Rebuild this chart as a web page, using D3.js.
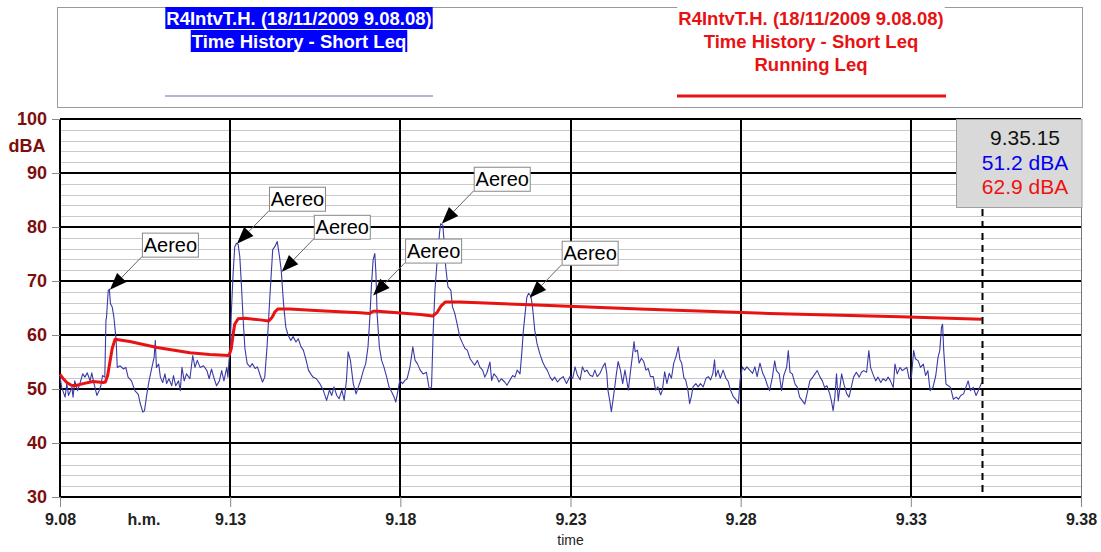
<!DOCTYPE html>
<html lang="it">
<head>
    <meta charset="UTF-8">
    <script src="https://cdnjs.cloudflare.com/ajax/libs/d3/7.8.5/d3.min.js"></script>
    <title>R4IntvT.H. - Time History</title>
    <style>
        body { margin: 0; background: #fff; }
        svg { display: block; font-family: "Liberation Sans", Arial, sans-serif; }
        .y-label { fill: #7d0e0e; font-size: 18px; font-weight: 700; }
        .x-label { fill: #222; font-size: 16px; font-weight: 700; }
        .legend-text { font-size: 18.5px; font-weight: 700; text-anchor: middle; }
        .note-text { font-size: 20px; fill: #000; }
        .readout { font-size: 21px; text-anchor: middle; }
    </style>
</head>
<body>
<script>
    // time axis: seconds from 9.08.00
    const xTickSeconds = [0, 300, 600, 900, 1200, 1500, 1800];
    const xTickLabels = ['9.08', '9.13', '9.18', '9.23', '9.28', '9.33', '9.38'];
    const yTicks = [30, 40, 50, 60, 70, 80, 90, 100];

    const titleLine = 'R4IntvT.H. (18/11/2009 9.08.08)';
    const blueLegend = [titleLine, 'Time History - Short Leq'];
    const redLegend = [titleLine, 'Time History - Short Leq', 'Running Leq'];
    const cursorLabel = '9.35.15';
    const noteLabel = 'Aereo';

    // Short Leq  [sec, dBA]
    const shortLeq = [
        [0,52.2],[3,50.3],[9,48.5],[12,51],[15,48.8],[21,50.3],[23,48.5],[26,51.5],[31,49.7],[35,51],[40,52.8],[44,52.2],
        [48,53],[53,51.5],[56,53],[60,51],[65,48.8],[69,49.7],[72,50.6],[75,52.5],[79,52.2],[81,62.7],[82,63.3],[85,68.2],
        [87,68.5],[89,65.8],[92,65.2],[95,63.3],[99,59],[101,54],[106,54.3],[112,53.7],[116,54],[120,52.2],[126,51.5],
        [132,49.7],[138,49],[141,47.5],[146,45.7],[149,46],[153,49],[157,51.5],[162,54],[166,55.9],[168,59],[170,54],
        [174,54.6],[177,52.2],[181,51.2],[185,52.8],[188,51],[192,51.9],[197,50.6],[200,52.5],[204,50.6],[209,51.5],
        [212,49.7],[215,54],[219,51.5],[223,52.8],[229,51.9],[234,56.2],[238,54],[242,55.3],[247,54],[253,54.3],[259,53.4],
        [263,51.9],[267,53.7],[271,52.2],[276,50.6],[281,51.5],[285,53.4],[289,51.5],[294,54],[296,52.2],[298,55.3],
        [300,57],[302,64],[305,71],[308,76.3],[311,77],[314,76.8],[317,74.5],[320,68.9],[323,62.7],[326,57.5],[330,54.7],
        [335,54.1],[339,54.7],[344,53.8],[348,54.1],[353,52.5],[357,51.3],[361,52.2],[365,57.8],[370,67.1],[375,75.8],
        [379,76.4],[383,77.3],[387,74.5],[390,72],[394,65.9],[398,61.5],[402,60],[407,59],[411,59.7],[416,58.7],[420,59.3],
        [425,57.8],[429,57.2],[434,55.3],[438,53.5],[442,52.8],[446,52.2],[452,51.9],[458,51],[464,49.8],[470,47.9],
        [475,49.8],[479,48.8],[483,50.4],[488,48.8],[492,48.2],[497,49.8],[501,47.9],[505,51.6],[508,56.9],[512,55.3],
        [517,51],[522,49.1],[526,50.4],[530,51.6],[535,53.5],[539,54.7],[543,57.8],[546,62.8],[549,69],[552,73.9],
        [555,75.1],[557,71.4],[559,64],[563,57.8],[567,55.3],[571,54.1],[576,52.2],[580,50.4],[585,49.4],[589,48.5],
        [592,47.6],[596,49.8],[599,51.6],[604,51],[608,51.6],[612,51.9],[617,54.1],[622,57.8],[626,55.3],[630,54.7],
        [635,53.5],[640,52.8],[646,53.1],[651,50],[655,50.4],[658,60.9],[661,68.3],[665,73.8],[669,78.8],[671,80.6],
        [675,80.3],[677,77.5],[680,72.6],[684,68.9],[689,68.3],[692,65.2],[696,64],[700,62.1],[705,59.6],[710,58.4],
        [714,57.5],[718,57.2],[723,55.6],[727,55],[731,54.4],[736,55.3],[740,54.1],[745,53.5],[749,52.2],[753,53.1],
        [758,55],[761,51.6],[765,52.8],[770,52.2],[774,51.3],[778,51.9],[784,51.3],[788,50.7],[793,51.6],[798,52.5],
        [802,52.2],[806,53.5],[811,52.8],[814,56.5],[817,60.9],[820,64],[823,67],[826,67.7],[830,67.3],[833,65.2],
        [837,60.9],[841,58.4],[846,56.5],[851,55],[855,54.1],[859,53.5],[864,52.2],[868,51.6],[872,52.2],[877,51.3],
        [881,51.8],[887,52.3],[893,51],[899,52.3],[904,52],[908,54.1],[912,52.6],[917,51.7],[921,54.1],[925,53.2],
        [929,53.5],[934,52.6],[939,52.3],[943,53.5],[947,52.3],[952,52.9],[957,54.1],[961,54.8],[964,52.9],[966,49.8],
        [969,48],[972,45.8],[975,48],[978,50.4],[981,52.9],[984,55.1],[988,53.5],[992,51],[996,53.5],[999,51.7],
        [1002,49.8],[1006,53.5],[1009,56],[1012,58.8],[1014,56.9],[1018,57.2],[1021,54.8],[1025,55.7],[1029,55.1],
        [1033,53.5],[1037,53.8],[1041,52.3],[1046,52.3],[1050,49.8],[1054,50.4],[1059,48.9],[1062,49.8],[1066,53.2],
        [1070,51],[1074,52.9],[1078,52],[1082,54.8],[1086,56],[1090,57.8],[1093,55.4],[1096,54.8],[1100,52],[1103,51.7],
        [1107,49.8],[1110,47.3],[1113,48.6],[1116,50.4],[1121,51],[1125,50.4],[1129,51],[1134,50.4],[1139,52],[1143,52.3],
        [1147,51.7],[1151,52.9],[1154,55.4],[1156,52.3],[1160,53.5],[1164,52],[1169,53.5],[1174,52],[1178,51.4],
        [1182,49.8],[1187,48.6],[1192,48],[1196,47.3],[1199,51.7],[1203,54.1],[1207,53.5],[1211,54.1],[1216,53.5],
        [1221,52.9],[1225,54.1],[1229,52.3],[1234,54.8],[1239,52.9],[1243,52],[1247,50.7],[1251,49.7],[1256,52.2],
        [1260,55.2],[1263,53.4],[1268,52.8],[1272,49.7],[1276,52.5],[1281,54],[1284,57.1],[1287,53.1],[1291,52.8],
        [1296,50.9],[1300,50.3],[1304,48.5],[1309,47.8],[1313,47.2],[1317,49.1],[1322,51.5],[1327,52.2],[1331,52.8],
        [1335,53.4],[1340,52.2],[1344,51.5],[1348,50.3],[1352,50.6],[1357,49.1],[1360,47.8],[1363,46],[1366,48.5],
        [1369,52.8],[1372,47.8],[1375,50.3],[1378,52.8],[1382,50.9],[1387,49.1],[1391,48.5],[1395,50.3],[1399,52.2],
        [1404,53.1],[1409,52.2],[1413,53.1],[1417,53.4],[1422,53.1],[1426,57.1],[1429,54],[1433,52.8],[1438,51.5],
        [1442,52.2],[1447,51.2],[1451,51.9],[1456,51.5],[1460,52.2],[1464,51.5],[1469,50.3],[1472,54.6],[1476,52.8],
        [1481,54],[1485,53.4],[1489,53.7],[1493,54],[1497,51.9],[1501,52.2],[1505,57.1],[1508,55.6],[1513,55.2],
        [1517,54],[1522,54.6],[1526,52.5],[1530,53.4],[1534,49.7],[1539,50.3],[1544,52.5],[1548,55.9],[1551,57.1],
        [1554,61.4],[1556,62],[1558,57.1],[1562,50.9],[1566,50.6],[1570,50.3],[1575,48.1],[1580,48.5],[1584,48.1],
        [1588,48.8],[1593,49.1],[1597,50.3],[1601,51.5],[1605,49.7],[1610,50.3],[1615,48.8],[1619,49.7],[1625,51.2]
    ];

    // Running Leq  [sec, dBA]
    const runningLeq = [
        [0,52.7],[5,52],[12,51.2],[20,50.7],[26,50.6],[41,51],[58,51.4],[76,51.2],[80,51.3],[84,52.5],[88,55],[92,57.5],
        [97,59.2],[123,58.8],[171,57.7],[229,56.7],[264,56.4],[298,56.2],[302,57.5],[305,60],[308,62],[314,63],[326,63.1],
        [353,62.8],[368,62.6],[374,63.3],[379,64.3],[384,64.8],[405,64.8],[458,64.5],[529,64.1],[546,64],[552,64.4],
        [560,64.4],[635,63.8],[657,63.5],[665,64.2],[672,65.4],[679,66.1],[705,66.1],[828,65.6],[1022,64.8],[1251,64],
        [1481,63.4],[1625,62.9]
    ];

    // "Aereo" events (arrow tip)  [sec, dBA]
    const aereoEvents = [[88,68.4],[312,76.9],[391,71.7],[552,67.3],[673,80.6],[828,66.9]];

    const width = 1101;
    const height = 552;
    const plotLeft = 60;
    const plotRight = 1081;
    const plotTop = 119;
    const plotBottom = 497;

    const blueColor = '#3a3aa6';
    const redColor = '#e81212';

    const svg = d3.select('body').append('svg')
        .attr('width', width)
        .attr('height', height);

    svg.append('rect').attr('width', width).attr('height', height).attr('fill', '#fff');

    const x = d3.scaleLinear().domain([0, 1800]).range([plotLeft, plotRight]);
    const y = d3.scaleLinear().domain([30, 100]).range([plotBottom, plotTop]);

    // ---- legend box
    svg.append('rect')
        .attr('x', 57.5).attr('y', 7.5)
        .attr('width', plotRight + 1.5 - 57.5).attr('height', 100)
        .attr('fill', '#fff').attr('stroke', '#9a9a9a');

    const drawLegend = function(lines, cx, color, highlight) {
        const g = svg.append('g');
        lines.forEach(function(line, i) {
            const base = 25 + i * 23;
            const t = g.append('text')
                .attr('class', 'legend-text')
                .attr('x', cx).attr('y', base)
                .attr('fill', highlight ? '#fff' : color)
                .text(line);
            const bb = t.node().getBBox();
            g.insert('rect', 'text')
                .attr('x', bb.x - 1).attr('y', base - 18)
                .attr('width', bb.width + 2).attr('height', 22)
                .attr('fill', highlight ? '#0000ff' : '#fff');
        });
    };
    drawLegend(blueLegend, 299, '#fff', true);
    drawLegend(redLegend, 811, redColor, false);

    svg.append('line')
        .attr('x1', 165).attr('x2', 433).attr('y1', 96).attr('y2', 96)
        .attr('stroke', '#6b6bb0').attr('stroke-width', 1);
    svg.append('line')
        .attr('x1', 677).attr('x2', 946).attr('y1', 96).attr('y2', 96)
        .attr('stroke', redColor).attr('stroke-width', 3);

    // ---- grid
    const grid = svg.append('g');
    grid.selectAll('.minor')
        .data(d3.range(32, 100, 2).filter(function(v) { return v % 10 !== 0; }))
        .enter().append('line')
        .attr('x1', plotLeft).attr('x2', plotRight)
        .attr('y1', function(d) { return Math.round(y(d)) + 0.5; })
        .attr('y2', function(d) { return Math.round(y(d)) + 0.5; })
        .attr('stroke', '#c9c9c9');

    grid.selectAll('.major-y')
        .data(yTicks)
        .enter().append('line')
        .attr('x1', plotLeft).attr('x2', plotRight)
        .attr('y1', function(d) { return Math.round(y(d)); })
        .attr('y2', function(d) { return Math.round(y(d)); })
        .attr('stroke', '#000').attr('stroke-width', 2);

    grid.selectAll('.major-x')
        .data(xTickSeconds.slice(0, -1))
        .enter().append('line')
        .attr('x1', function(d) { return Math.round(x(d)); })
        .attr('x2', function(d) { return Math.round(x(d)); })
        .attr('y1', plotTop).attr('y2', plotBottom)
        .attr('stroke', '#000').attr('stroke-width', 2);

    grid.append('line')
        .attr('x1', plotRight + 0.5).attr('x2', plotRight + 0.5)
        .attr('y1', plotTop).attr('y2', plotBottom)
        .attr('stroke', '#777');

    // ---- axes
    const yAxis = svg.append('g')
        .attr('transform', 'translate(' + plotLeft + ',0)')
        .call(d3.axisLeft(y).tickValues(yTicks).tickSize(8).tickPadding(5));
    yAxis.select('.domain').remove();
    yAxis.selectAll('line').attr('stroke', '#888');
    yAxis.selectAll('text').attr('class', 'y-label').attr('fill', null);

    const xAxis = svg.append('g')
        .attr('transform', 'translate(0,' + plotBottom + ')')
        .call(d3.axisBottom(x).tickValues(xTickSeconds).tickSize(10).tickPadding(7)
            .tickFormat(function(d, i) { return xTickLabels[i]; }));
    xAxis.select('.domain').remove();
    xAxis.selectAll('line').attr('stroke', '#888');
    xAxis.selectAll('text').attr('class', 'x-label').attr('fill', null);

    svg.append('text').attr('class', 'y-label')
        .attr('x', 27).attr('y', 152).attr('text-anchor', 'middle').text('dBA');
    svg.append('text').attr('class', 'x-label')
        .attr('x', 144).attr('y', 525).attr('text-anchor', 'middle').text('h.m.');
    svg.append('text')
        .attr('x', x(900)).attr('y', 545).attr('text-anchor', 'middle')
        .attr('font-size', 14).attr('fill', '#222').text('time');

    // ---- series
    const line = d3.line()
        .x(function(d) { return x(d[0]); })
        .y(function(d) { return y(d[1]); });

    svg.append('path')
        .datum(shortLeq)
        .attr('d', line)
        .attr('fill', 'none')
        .attr('stroke', blueColor)
        .attr('stroke-width', 1.1)
        .attr('stroke-linejoin', 'round');

    svg.append('path')
        .datum(runningLeq)
        .attr('d', line)
        .attr('fill', 'none')
        .attr('stroke', redColor)
        .attr('stroke-width', 3)
        .attr('stroke-linejoin', 'round');

    // ---- "Aereo" notes
    const boxDx = 32, boxDy = -57, boxW = 56, boxH = 24;
    const headLen = 17, headHalf = 6.5;
    const notes = svg.selectAll('.note')
        .data(aereoEvents)
        .enter().append('g')
        .attr('class', 'note');

    notes.each(function(d) {
        const g = d3.select(this);
        const tx = x(d[0]), ty = y(d[1]);
        const sx = tx + boxDx, sy = ty + boxDy + boxH;
        const ang = Math.atan2(sy - ty, sx - tx);
        const bx = tx + Math.cos(ang) * headLen, by = ty + Math.sin(ang) * headLen;
        g.append('line')
            .attr('x1', sx).attr('y1', sy).attr('x2', bx).attr('y2', by)
            .attr('stroke', '#666').attr('stroke-width', 1);
        const px = -Math.sin(ang) * headHalf, py = Math.cos(ang) * headHalf;
        g.append('polygon')
            .attr('points', [[tx, ty], [bx + px, by + py], [bx - px, by - py]].join(' '))
            .attr('fill', '#000');
        g.append('rect')
            .attr('x', tx + boxDx + 0.5).attr('y', ty + boxDy + 0.5)
            .attr('width', boxW).attr('height', boxH)
            .attr('fill', '#fff').attr('stroke', '#888');
        g.append('text')
            .attr('class', 'note-text')
            .attr('x', tx + boxDx + boxW / 2 + 0.5).attr('y', ty + boxDy + 19)
            .attr('text-anchor', 'middle')
            .text(noteLabel);
    });

    // ---- cursor and readout
    const lastShort = shortLeq[shortLeq.length - 1];
    const lastRunning = runningLeq[runningLeq.length - 1];
    const cx = Math.round(x(lastShort[0])) + 0.5;

    svg.append('line')
        .attr('x1', cx).attr('x2', cx)
        .attr('y1', 209).attr('y2', plotBottom)
        .attr('stroke', '#000').attr('stroke-width', 2)
        .attr('stroke-dasharray', '7,5');

    svg.append('rect')
        .attr('x', 956.5).attr('y', 119.5)
        .attr('width', plotRight + 1 - 956.5).attr('height', 88)
        .attr('fill', '#d9d9d9').attr('stroke', '#a0a0a0');

    const readout = [
        { text: cursorLabel, color: '#111' },
        { text: lastShort[1].toFixed(1) + ' dBA', color: '#0000ee' },
        { text: lastRunning[1].toFixed(1) + ' dBA', color: '#ee1111' }
    ];
    svg.selectAll('.readout')
        .data(readout)
        .enter().append('text')
        .attr('class', 'readout')
        .attr('x', 1025)
        .attr('y', function(d, i) { return 145 + i * 24.5; })
        .attr('fill', function(d) { return d.color; })
        .text(function(d) { return d.text; });
</script>
</body>
</html>
